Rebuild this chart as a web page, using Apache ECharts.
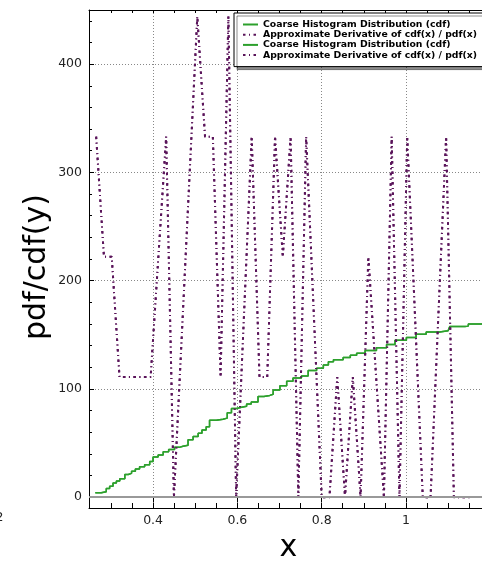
<!DOCTYPE html>
<html><head><meta charset="utf-8">
<script src="https://cdn.jsdelivr.net/npm/echarts@6/dist/echarts.min.js"></script>
<style>html,body{margin:0;padding:0;background:#fff;overflow:hidden}#c{width:482px;height:562px}</style>
</head><body><div id="c"></div>
<script>
// Coarse histogram distribution (cdf), step line
const cdfX = [0.263,0.277,0.289,0.297,0.305,0.313,0.321,0.333,0.341,0.349,0.358,0.368,0.380,0.392,0.400,0.412,0.424,0.437,0.451,0.462,0.471,0.483,0.495,0.507,0.516,0.526,0.534,0.550,0.566,0.576,0.586,0.598,0.610,0.622,0.633,0.649,0.663,0.677,0.685,0.701,0.717,0.732,0.752,0.768,0.788,0.804,0.816,0.828,0.851,0.868,0.883,0.903,0.930,0.954,0.974,1.001,1.024,1.048,1.080,1.100,1.104,1.140,1.148,1.180,1.200];
const cdfY = [4,5,8,10,13,15,17,21,22,24,26,28,30,33,37,39,42,44,46,47,48,53,56,59,62,65,71,72,73,78,82,83,84,86,88,93,94,95,99,103,107,110,112,117,119,122,125,127,129,131,133,135.5,138,141,145,147.5,150.5,152.5,153.7,154,157.7,158,160,161.7,162.5];
// Approximate derivative (pdf)
const pdfX = [0.265,0.2835,0.3019,0.3204,0.3388,0.3573,0.3757,0.3942,0.4126,0.4311,0.4495,0.4680,0.4864,0.5049,0.5233,0.5418,0.5602,0.5787,0.5971,0.6156,0.6340,0.6525,0.6709,0.6894,0.7078,0.7263,0.7447,0.7632,0.7816,0.8001,0.8185,0.8370,0.8554,0.8739,0.8923,0.9108,0.9292,0.9477,0.9661,0.9846,1.0030,1.0215,1.0399,1.0584,1.0768,1.0953,1.1137,1.1322,1.1506];
const pdfY = [333,222,222,111,111,111,111,111,222,333,0,148,296,444,333,333,111,444,0,167,333,111,111,333,222,333,0,333,167,0,0,111,0,111,0,222,111,0,333,0,333,167,0,0,167,333,0,0,0];
// ticks
const xTicks = [0.3,0.35,0.4,0.45,0.5,0.55,0.6,0.65,0.7,0.75,0.8,0.85,0.9,0.95,1,1.05,1.1,1.15,1.2,1.25];
const xTickLabels = [0.4,0.6,0.8,1];
const yTicks = [0,20,40,60,80,100,120,140,160,180,200,220,240,260,280,300,320,340,360,380,400,420,440];
const yTickLabels = [0,100,200,300,400];
const seriesNames = ['Coarse Histogram Distribution (cdf)','Approximate Derivative of cdf(x) / pdf(x)','Coarse Histogram Distribution (cdf) ','Approximate Derivative of cdf(x) / pdf(x) '];
const xTitle = 'x';
const yTitle = 'pdf/cdf(y)';

const FONT = 'DejaVu Sans';
const G = '#2ca02c', P = '#5a145a', T = 'rgba(0,0,0,0)', GRID = '#888';
const DASH = [2.5, 3.5, 1, 3.5];
const XMIN = 0.248, XMAX = 1.3, YMIN = -10, YMAX = 450;
const zip = (a, b) => a.map((v, i) => [v, b[i]]);
const cdfData = zip(cdfX, cdfY), pdfData = zip(pdfX, pdfY);

const chart = echarts.init(document.getElementById('c'), null, {renderer: 'canvas'});
const lblStyle = {fontFamily: FONT, fontSize: 12.5, color: '#222'};
chart.setOption({
  animation: false,
  backgroundColor: '#fff',
  grid: {left: 89, top: 10, height: 498, width: 443.4, containLabel: false, outerBoundsMode: 'none'},
  xAxis: [
    {type: 'value', position: 'bottom', min: XMIN, max: XMAX,
     axisLine: {show: true, onZero: false, lineStyle: {color: '#000', width: 1}},
     axisTick: {show: true, inside: true, length: 5, customValues: xTicks, lineStyle: {color: '#000'}},
     axisLabel: Object.assign({customValues: xTickLabels, margin: 6}, lblStyle),
     splitLine: {show: true, lineStyle: {color: [T, T, GRID, T], type: [1, 2], width: 1}}},
    {type: 'value', position: 'top', min: XMIN, max: XMAX,
     axisLine: {show: true, onZero: false, lineStyle: {color: '#000', width: 1}},
     axisTick: {show: true, inside: true, length: 3, customValues: xTicks, lineStyle: {color: '#000'}},
     axisLabel: {show: false}, splitLine: {show: false}},
    {type: 'value', position: 'top', min: XMIN, max: XMAX,
     axisLine: {show: false},
     axisTick: {show: true, inside: true, length: 5, customValues: xTickLabels, lineStyle: {color: '#000'}},
     axisLabel: {show: false}, splitLine: {show: false}}
  ],
  yAxis: [
    {type: 'value', position: 'left', min: YMIN, max: YMAX,
     axisLine: {show: true, onZero: false, lineStyle: {color: '#000', width: 1}},
     axisTick: {show: true, inside: true, length: 3, customValues: yTicks, lineStyle: {color: '#000'}},
     axisLabel: Object.assign({customValues: yTickLabels, margin: 7}, lblStyle),
     splitLine: {show: true, lineStyle: {color: [GRID, T, T, T, T], type: [1, 2], width: 1}}},
    {type: 'value', position: 'left', min: YMIN, max: YMAX,
     axisLine: {show: false},
     axisTick: {show: true, inside: true, length: 5, customValues: yTickLabels, lineStyle: {color: '#000'}},
     axisLabel: {show: false}, splitLine: {show: false}}
  ],
  legend: {
    data: seriesNames, orient: 'vertical', left: 234, top: 13,
    itemWidth: 15, itemHeight: 8, itemGap: 1.2,
    padding: [7, 12, 7, 8],
    backgroundColor: '#fff', borderColor: '#000', borderWidth: 1, borderRadius: 0,
    shadowColor: 'rgba(0,0,0,0.45)', shadowOffsetX: 3, shadowOffsetY: 3, shadowBlur: 0.01,
    selectedMode: false,
    itemStyle: {color: T, borderWidth: 0, borderColor: T},
    textStyle: {fontFamily: FONT, fontSize: 9.3, fontWeight: 'bold', color: '#000'}
  },
  series: [
    {name: seriesNames[0], type: 'line', data: cdfData, step: 'end', symbol: 'none', z: 3,
     lineStyle: {color: G, width: 1.5}, itemStyle: {color: G},
     markLine: {silent: true, symbol: 'none', label: {show: false},
       lineStyle: {color: '#999', width: 2, type: 'solid'}, data: [{yAxis: 0}]}},
    {name: seriesNames[1], type: 'line', data: pdfData, symbol: 'none', z: 4,
     lineStyle: {color: P, width: 2, type: DASH}, itemStyle: {color: P}},
    {name: seriesNames[2], type: 'line', data: cdfData, step: 'end', symbol: 'none', z: 3,
     lineStyle: {color: G, width: 1.5}, itemStyle: {color: G}},
    {name: seriesNames[3], type: 'line', data: pdfData, symbol: 'none', z: 4,
     lineStyle: {color: P, width: 2, type: DASH}, itemStyle: {color: P}}
  ],
  graphic: [
    {type: 'text', x: 37.5, y: 267, rotation: Math.PI / 2, silent: true,
     style: {text: yTitle, fontFamily: FONT, fontSize: 30, fill: '#000', align: 'center', verticalAlign: 'middle'}},
    {type: 'text', x: 288.5, y: 548, silent: true,
     style: {text: xTitle, fontFamily: FONT, fontSize: 30, fill: '#000', align: 'center', verticalAlign: 'middle'}},
    {type: 'text', x: -4.5, y: 511, silent: true,
     style: {text: '2', fontFamily: FONT, fontSize: 12.5, fill: '#222', align: 'left', verticalAlign: 'top'}}
  ]
});
</script></body></html>
